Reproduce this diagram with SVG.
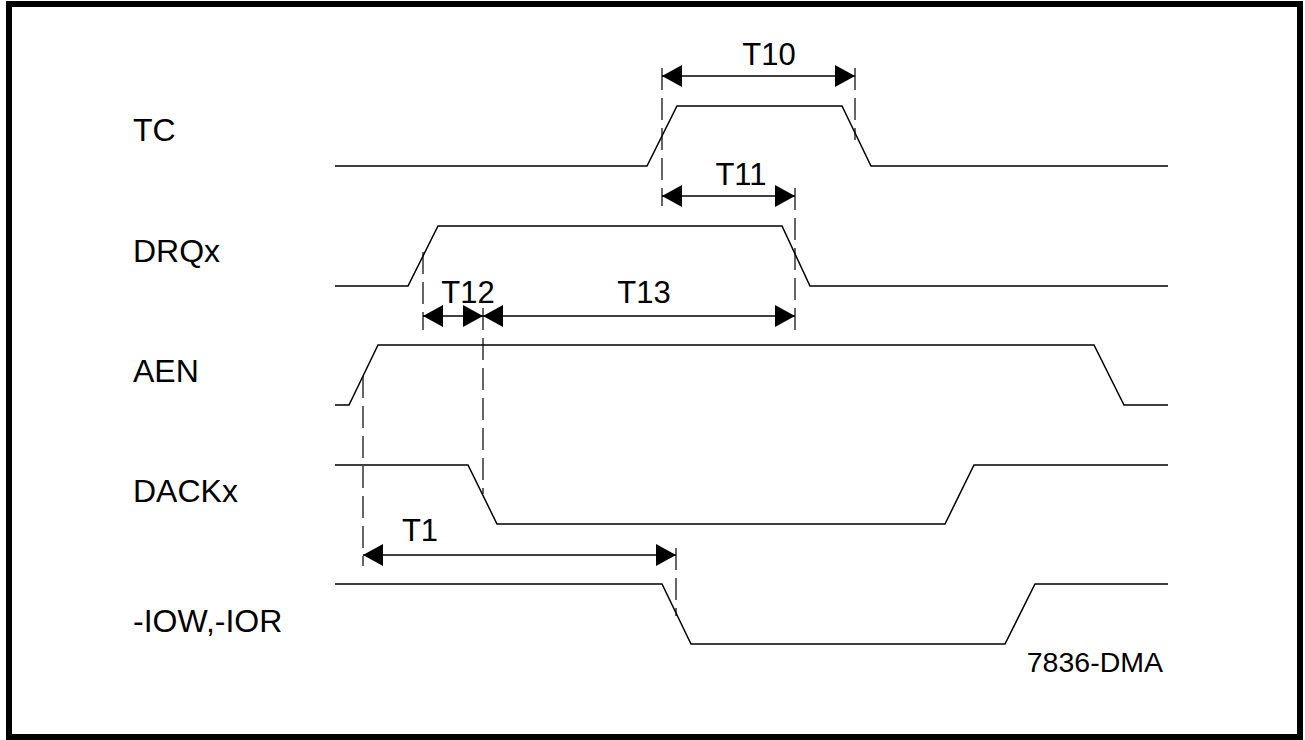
<svg xmlns="http://www.w3.org/2000/svg" width="1305" height="740" viewBox="0 0 1305 740">
<defs>
<style>
.sig{fill:none;stroke:#000;stroke-width:1.5}
.dash{fill:none;stroke:#000;stroke-width:1.2;stroke-dasharray:22 8}
.dim{fill:none;stroke:#000;stroke-width:1.5}
.lbl{font-family:"Liberation Sans",Arial,sans-serif;font-size:32px;fill:#000}
.t{font-family:"Liberation Sans",Arial,sans-serif;font-size:31px;fill:#000;text-anchor:middle}
</style>
<marker id="ah" viewBox="0 0 20 22" refX="20" refY="11" markerWidth="20" markerHeight="22" markerUnits="userSpaceOnUse" orient="auto-start-reverse">
<path d="M0,0 L20,11 L0,22 Z" fill="#000"/>
</marker>
</defs>
<rect x="9" y="4" width="1291" height="733" fill="#fff" stroke="#000" stroke-width="6"/>
<g id="labels">
<text class="lbl" x="133" y="141">TC</text>
<text class="lbl" x="133" y="262">DRQx</text>
<text class="lbl" x="133" y="382">AEN</text>
<text class="lbl" x="133" y="502">DACKx</text>
<text class="lbl" x="133" y="632">-IOW,-IOR</text>
<text class="lbl" x="1163" y="672" text-anchor="end" style="font-size:28.5px">7836-DMA</text>
</g>
<g id="signals">
<g id="TC"><polyline class="sig" points="335,166 647,166 677,106 842,106 871,166 1168,166"/></g>
<g id="DRQx"><polyline class="sig" points="335,286 408,286 438,226 782,226 810,286 1168,286"/></g>
<g id="AEN"><polyline class="sig" points="335,405 349,405 378,345 1094,345 1124,405 1168,405"/></g>
<g id="DACKx"><polyline class="sig" points="335,465 468,465 497,524 945,524 974,465 1168,465"/></g>
<g id="IOW"><polyline class="sig" points="335,584 662,584 691,644 1005,644 1035,584 1168,584"/></g>
</g>
<g id="connectors">
<line class="dash" x1="662" y1="68" x2="662" y2="206"/>
<line class="dash" x1="855" y1="68" x2="855" y2="140"/>
<line class="dash" x1="795" y1="188" x2="795" y2="330"/>
<line class="dash" x1="423" y1="252" x2="423" y2="330"/>
<line class="dash" x1="483" y1="308" x2="483" y2="494"/>
<line class="dash" x1="363" y1="376" x2="363" y2="566"/>
<line class="dash" x1="676" y1="548" x2="676" y2="616"/>
<line class="dim" x1="662" y1="76" x2="855" y2="76" marker-start="url(#ah)" marker-end="url(#ah)"/>
<line class="dim" x1="662" y1="196" x2="795" y2="196" marker-start="url(#ah)" marker-end="url(#ah)"/>
<line class="dim" x1="423" y1="316" x2="483" y2="316" marker-start="url(#ah)" marker-end="url(#ah)"/>
<line class="dim" x1="483" y1="316" x2="795" y2="316" marker-start="url(#ah)" marker-end="url(#ah)"/>
<line class="dim" x1="363" y1="555" x2="676" y2="555" marker-start="url(#ah)" marker-end="url(#ah)"/>
</g>
<g id="timing-labels">
<text class="t" x="769" y="65">T10</text>
<text class="t" x="741" y="185">T11</text>
<text class="t" x="468" y="303">T12</text>
<text class="t" x="644" y="303">T13</text>
<text class="t" x="420" y="541">T1</text>
</g>
</svg>
